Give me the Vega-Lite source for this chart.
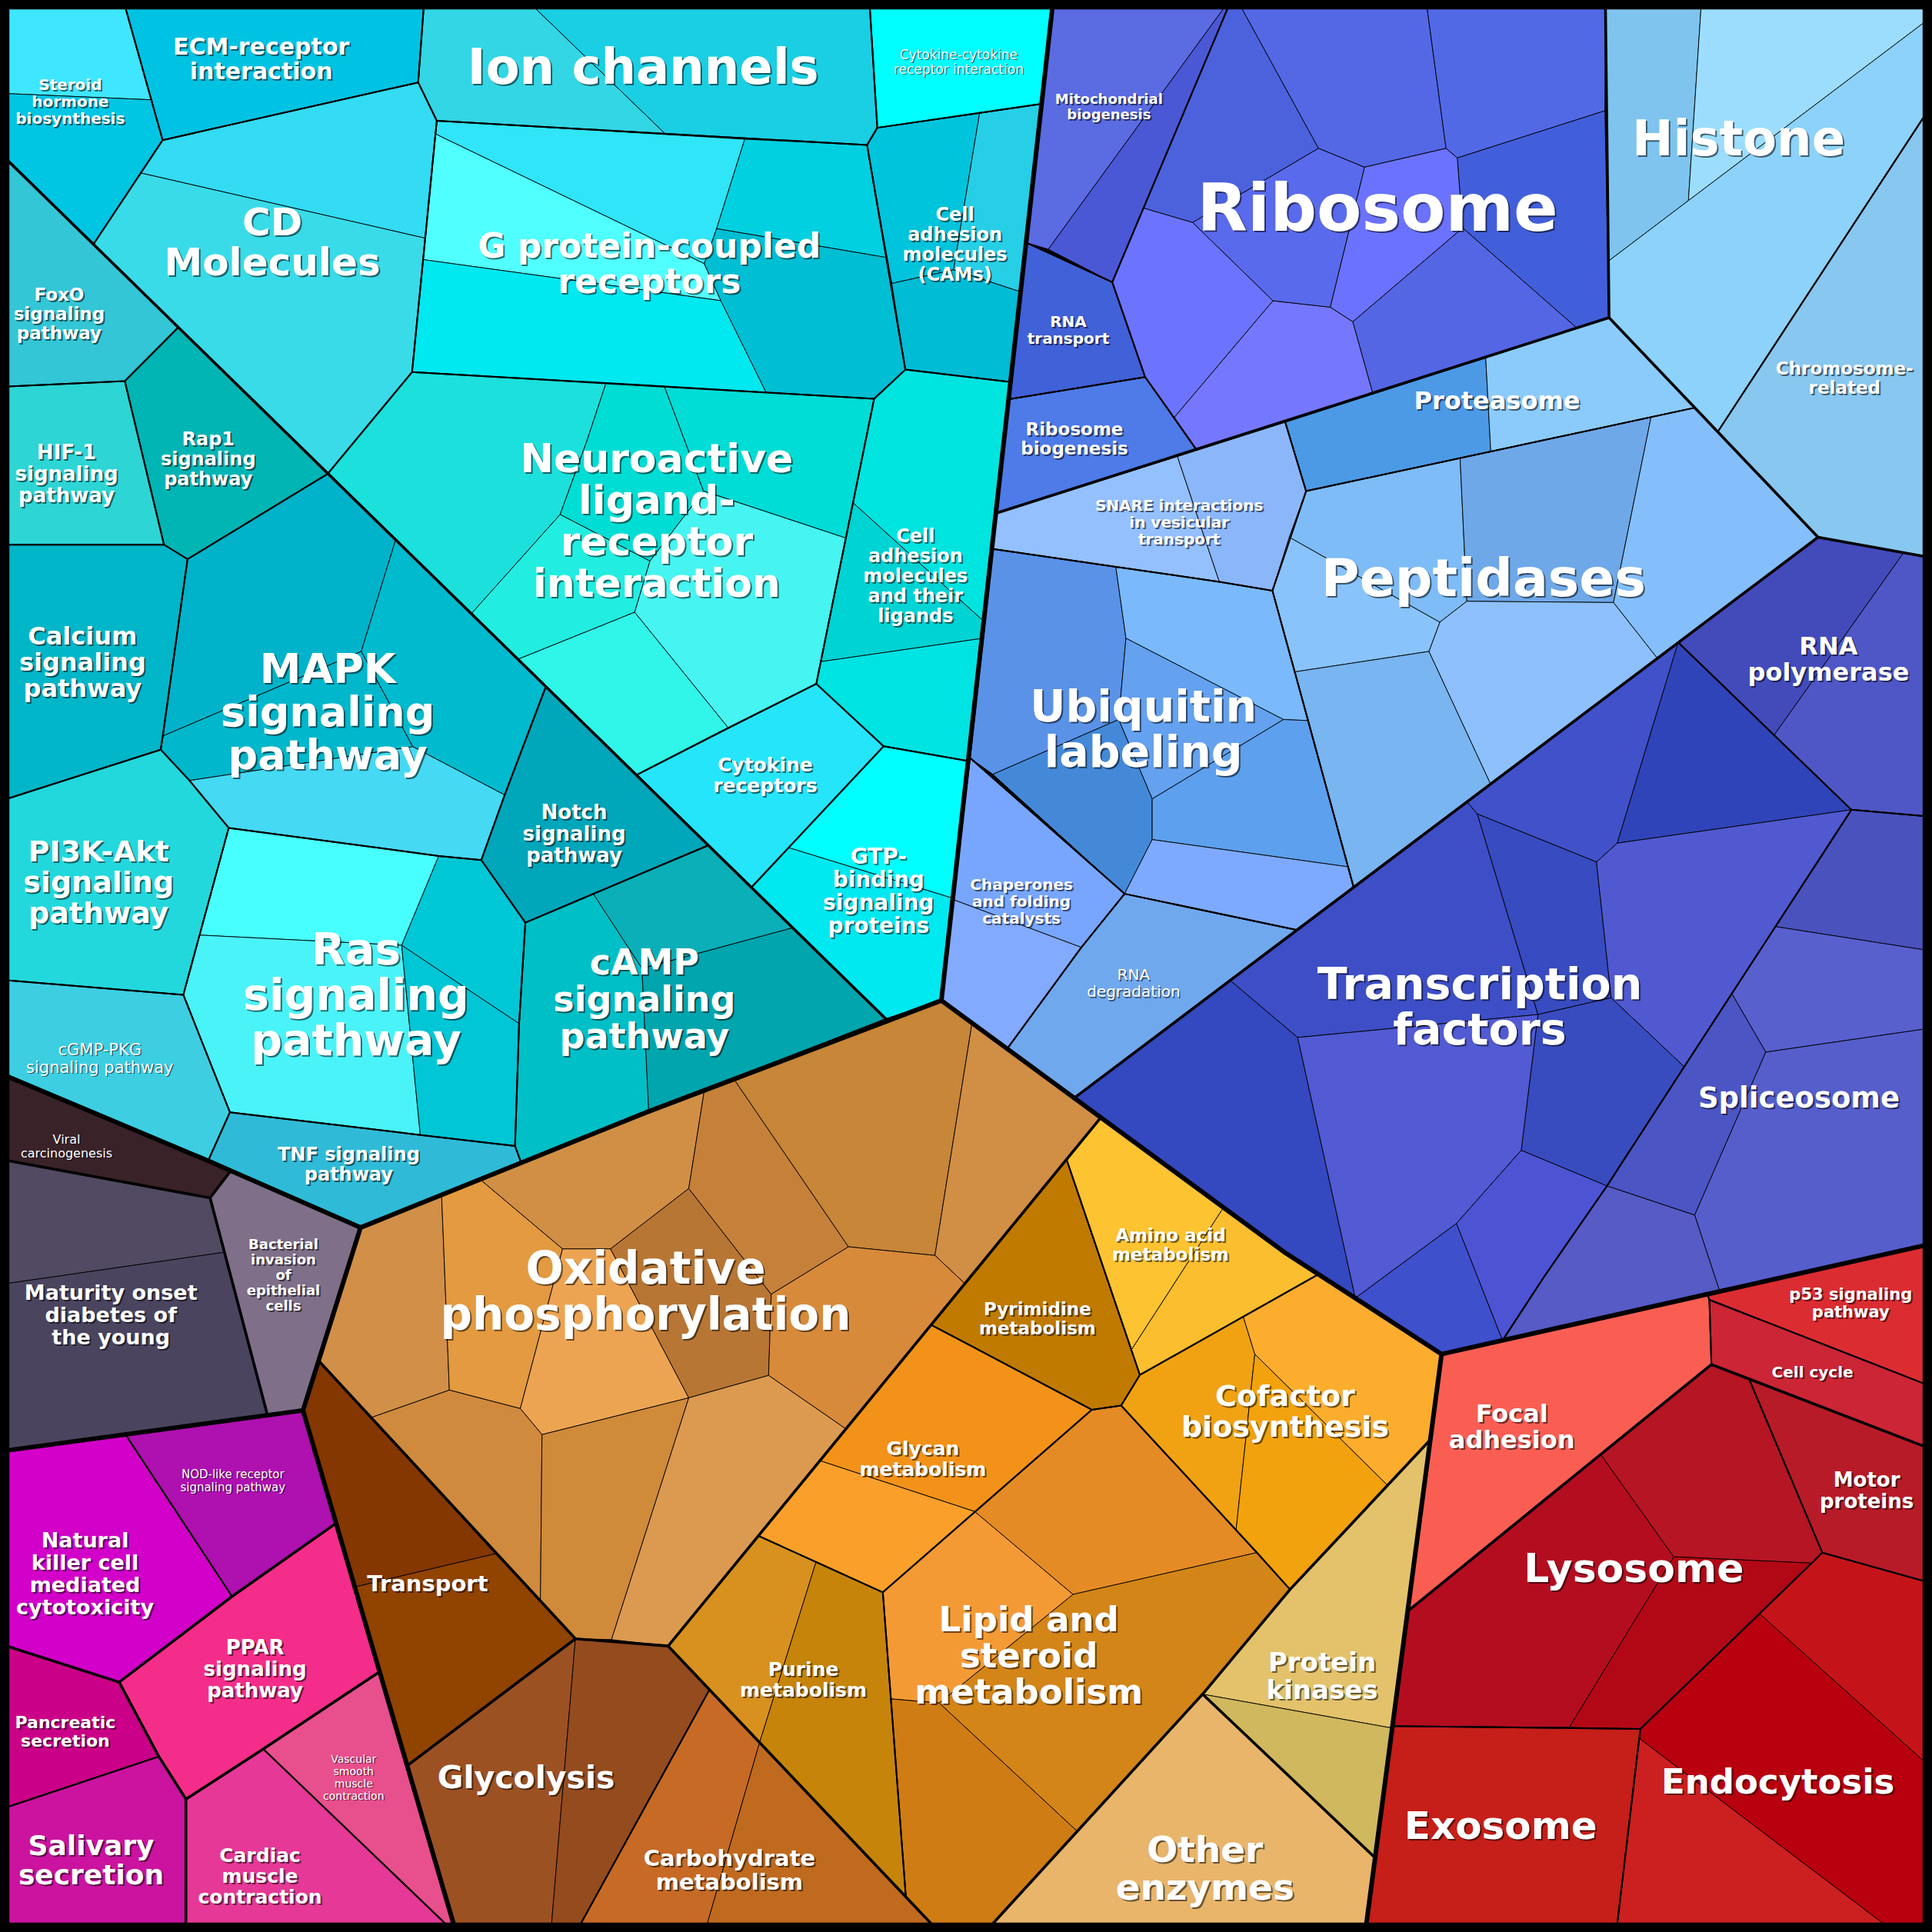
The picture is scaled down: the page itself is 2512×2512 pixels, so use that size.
{
"$schema":"https://vega.github.io/schema/vega-lite/v6.json",
"width":2512,"height":2512,
"autosize":{"type":"fit","contains":"padding"},
"padding":0,
"background":"#000000",
"config":{"view":{"stroke":null}},
"datasets":{
"cells":[
{"id":"ster_a","x":[7,102,122.8,7],"y":[7,7,81,76]},
{"id":"ster_b","x":[7,122.8,132,76,7],"y":[76,81,113.7,198,131]},
{"id":"ecm","k":"r","x":[102,343.8,339.4,132],"y":[7,7,66.9,113.7]},
{"id":"ion_a","x":[343.8,434.7,540,354.5,339.4],"y":[7,7,108.7,98,66.9]},
{"id":"ion_b","x":[434.7,706,712,703.7,540],"y":[7,7,103.7,117.7,108.7]},
{"id":"cyto_cyto","k":"r","x":[706,854,845.5,712],"y":[7,7,84.3,103.7]},
{"id":"cam_a","x":[712,795,773.9,723.8,703.7],"y":[103.7,92,219,230,117.7]},
{"id":"cam_b","x":[795,845.5,828.7,773.9],"y":[92,84.3,237,219]},
{"id":"cam_c","x":[723.8,773.9,828.7,820.7,734.8],"y":[230,219,237,310,300]},
{"id":"cd_a","x":[132,339.4,354.5,345.1,114.3],"y":[113.7,66.9,98,193.3,140.4]},
{"id":"cd_b","x":[114.3,345.1,334.4,265.9,76],"y":[140.4,193.3,302,384.6,198]},
{"id":"gp_top","x":[354.5,604.4,581.6,571.6,353.4],"y":[98,113,185.6,214,108.7]},
{"id":"gp_light","x":[353.4,571.6,585,343.4],"y":[108.7,214,244,210.7]},
{"id":"gp_bot","x":[343.4,585,621.8,524.3,334.4],"y":[210.7,244,318.5,312.7,302]},
{"id":"gp_rt","x":[604.4,703.7,719.4,581.6],"y":[113,117.7,209,185.6]},
{"id":"gp_rb","x":[581.6,719.4,734.8,709.4,621.8,585,571.6],"y":[185.6,209,300,323.7,318.5,244,214]},
{"id":"neu_1","x":[334.4,491.8,476.3,454.6,382.6,265.9],"y":[302,311,357.9,417.6,498,384.6]},
{"id":"neu_2","x":[491.8,539.3,571,527.5,454.6,476.3],"y":[311,313.8,398.5,455.4,417.6,357.9]},
{"id":"neu_3","x":[539.3,621.8,709.4,686.5,571],"y":[313.8,318.5,323.7,436.7,398.5]},
{"id":"neu_4","x":[454.6,527.5,515.1,420.5,382.6],"y":[417.6,455.4,496.9,535,498]},
{"id":"neu_5","x":[571,686.5,662.5,591.1,515.1,527.5],"y":[398.5,436.7,555,590.8,496.9,455.4]},
{"id":"neu_6","x":[420.5,515.1,591.1,516.6],"y":[535,496.9,590.8,629]},
{"id":"cyto_rec","k":"r","x":[516.6,591.1,662.5,717.1,610],"y":[629,590.8,555,605.7,720]},
{"id":"cal_1","x":[709.4,734.8,820.7,799.2,692.3],"y":[323.7,300,310,505,408]},
{"id":"cal_2","x":[692.3,799.2,797.8,666.2],"y":[408,505,518,537]},
{"id":"cal_3","x":[666.2,797.8,786.8,717.1,662.5],"y":[537,518,617.8,605.7,555]},
{"id":"gtp_a","x":[717.1,786.8,774.5,640.2],"y":[605.7,617.8,729.4,688]},
{"id":"gtp_b","x":[640.2,774.5,764,719,610],"y":[688,729.4,812,827,720]},
{"id":"foxo","k":"r","x":[7,144.8,101.3,7],"y":[131,265.6,309.3,313.7]},
{"id":"rap1","k":"r","x":[144.8,265.9,152.2,133.1,101.3],"y":[265.6,384.6,453.8,442.1,309.3]},
{"id":"hif1","k":"r","x":[7,101.3,133.1,7],"y":[313.7,309.3,442.1,442.1]},
{"id":"calc","k":"r","x":[7,133.1,152.2,132.1,130.4,7],"y":[442.1,442.1,453.8,597.4,608.4,647.9]},
{"id":"mapk_a","x":[152.2,265.9,321.2,293.2,132.1],"y":[453.8,384.6,437.8,528.7,597.4]},
{"id":"mapk_b","x":[321.2,443.1,409.6,335,293.2],"y":[437.8,557,645.2,606,528.7]},
{"id":"mapk_c","x":[132.1,293.2,335,153.8,130.4],"y":[597.4,528.7,606,633.5,608.4]},
{"id":"mapk_d","x":[153.8,335,409.6,390.6,356.1,185.6],"y":[633.5,606,645.2,698,694.7,671.9]},
{"id":"notch","k":"r","x":[443.1,575,518.1,481.5,426.4,390.6,409.6],"y":[557,686,710,725.5,748.8,698,645.2]},
{"id":"pi3k","k":"r","x":[7,130.4,153.8,185.6,148.8,7],"y":[647.9,608.4,633.5,671.9,807.4,795.7]},
{"id":"cgmp","k":"r","x":[7,148.8,186.6,168.9,7],"y":[795.7,807.4,902.7,942.1,874]},
{"id":"ras_a","x":[185.6,356.1,326,162],"y":[671.9,694.7,767.2,758.9]},
{"id":"ras_b","x":[356.1,390.6,426.4,421.3,326],"y":[694.7,698,748.8,830.8,767.2]},
{"id":"ras_c","x":[162,326,341.1,186.6,148.8],"y":[758.9,767.2,921.1,902.7,807.4]},
{"id":"ras_d","x":[326,421.3,418,341.1],"y":[767.2,830.8,930.1,921.1]},
{"id":"tnf","k":"r","x":[186.6,341.1,418,423,292.6,168.9],"y":[902.7,921.1,930.1,943.8,996.3,942.1]},
{"id":"camp_a","x":[481.5,518.1,575,643.5,521],"y":[725.5,710,686,753,786]},
{"id":"camp_b","x":[426.4,481.5,521,526.5,423,418,421.3],"y":[748.8,725.5,786,902,943.8,930.1,830.8]},
{"id":"camp_c","x":[521,643.5,719,526.5],"y":[786,753,827,902]},
{"id":"mito_a","x":[854,993,850.8,833.1],"y":[7,7,202.3,197]},
{"id":"mito_b","x":[993,996.3,902.7,850.8],"y":[7,7,229,202.3]},
{"id":"rnatr","k":"r","x":[833.1,902.7,929.4,819.1],"y":[197,229,306,324]},
{"id":"ribbio","k":"r","x":[819.1,929.4,952.8,971.2,809],"y":[324,306,339,365.2,416.3]},
{"id":"rib_a","x":[996.3,1008,1070.1,967.9,928],"y":[7,7,120.4,180.6,168.9]},
{"id":"rib_b","x":[1008,1158.3,1173.6,1107.4,1070.1],"y":[7,7,120.4,135.7,120.4]},
{"id":"rib_c","x":[1158.3,1303,1302.5,1182.7,1173.6],"y":[7,7,89.9,128.2,120.4]},
{"id":"rib_d","x":[1182.7,1302.5,1305.9,1280.4,1187.1],"y":[128.2,89.9,257.8,266.8,185]},
{"id":"rib_e","x":[1107.4,1173.6,1182.7,1187.1,1097.9,1079.6],"y":[135.7,120.4,128.2,185,261.2,249.3]},
{"id":"rib_f","x":[1187.1,1280.4,1114.2,1097.9],"y":[185,266.8,319.7,261.2]},
{"id":"rib_g","x":[1033.1,1079.6,1097.9,1114.2,971.2,952.8],"y":[244.1,249.3,261.2,319.7,365.2,339]},
{"id":"rib_h","x":[967.9,1070.1,1107.4,1079.6,1033.1],"y":[180.6,120.4,135.7,249.3,244.1]},
{"id":"rib_i","x":[928,967.9,1033.1,952.8,929.4,902.7],"y":[168.9,180.6,244.1,339,306,229]},
{"id":"hist_a","x":[1303,1380.5,1370.3,1305.3],"y":[7,7,162.8,212]},
{"id":"hist_b","x":[1380.5,1561,1561,1370.3],"y":[7,7,18.7,162.8]},
{"id":"hist_c","x":[1305.3,1370.3,1561,1561,1394.1,1305.9],"y":[212,162.8,18.7,95.4,350.5,257.8]},
{"id":"chrom","k":"r","x":[1561,1561,1475.5,1394.1],"y":[95.4,451.5,436,350.5]},
{"id":"prot_a","x":[1043,1205.8,1209.9,1060],"y":[342.4,290.5,366.4,398.6]},
{"id":"prot_b","x":[1205.8,1305.9,1375.4,1209.9],"y":[290.5,257.8,330.9,366.4]},
{"id":"snare_a","x":[809,955.5,989.6,905.6,805.8],"y":[416.3,370.2,472.2,460,445.5]},
{"id":"snare_b","x":[955.5,1043,1060,1032.7,989.6],"y":[370.2,342.4,398.6,479.4,472.2]},
{"id":"pep_1","x":[1060,1185,1190.5,1168.5,1046.3],"y":[398.6,371.8,488,505,436]},
{"id":"pep_2","x":[1185,1340,1309.5,1190.5],"y":[371.8,338.5,489,488]},
{"id":"pep_3","x":[1340,1375.4,1475.5,1345,1309.5],"y":[338.5,330.9,436,534.2,489]},
{"id":"pep_4","x":[1190.5,1309.5,1345,1209.6,1159.7,1168.5],"y":[488,489,534.2,636.1,528.7,505]},
{"id":"pep_5","x":[1046.3,1168.5,1159.7,1050.8,1032.7],"y":[436,505,528.7,545.3,479.4]},
{"id":"pep_6","x":[1050.8,1159.7,1209.6,1098.5],"y":[545.3,528.7,636.1,719.7]},
{"id":"ubi_1","x":[805.8,905.6,913.8,907.9,805.8,787.1],"y":[445.5,460,518,584,628.4,615]},
{"id":"ubi_2","x":[905.6,989.6,1032.7,1050.8,1061.9,1041.7,913.8],"y":[460,472.2,479.4,545.3,584.8,584,518]},
{"id":"ubi_3","x":[913.8,1041.7,935.1,907.9],"y":[518,584,648.4,584]},
{"id":"ubi_4","x":[805.8,907.9,935.1,935.1,912.7],"y":[628.4,584,648.4,681.4,725.4]},
{"id":"ubi_5","x":[1041.7,1061.9,1094.1,935.1,935.1],"y":[584,584.8,703.5,681.4,648.4]},
{"id":"ubi_6","x":[935.1,1094.1,1098.5,1052,912.7],"y":[681.4,703.5,719.7,754.7,725.4]},
{"id":"chap_a","x":[787.1,912.7,877.6,774.4],"y":[615,725.4,768.9,730.4]},
{"id":"chap_b","x":[774.4,877.6,817.4,764],"y":[730.4,768.9,851.2,812]},
{"id":"rnadeg","k":"r","x":[912.7,1052,871.2,817.4,877.6],"y":[725.4,754.7,891.6,851.2,768.9]},
{"id":"rnap_a","x":[1475.5,1545,1439.9,1362],"y":[436,448.6,596.6,521.4]},
{"id":"rnap_b","x":[1545,1561,1561,1502.6,1439.9],"y":[448.6,451.5,662.3,657.2,596.6]},
{"id":"tf1","x":[871.2,998,1053.2,1100,1042],"y":[891.6,795.3,842,1053.5,1016]},
{"id":"tf2","x":[998,1190.5,1199,1248.2,1053.2],"y":[795.3,650.5,660.6,823.4,842]},
{"id":"tf3","x":[1190.5,1362,1312.6,1295.7,1199],"y":[650.5,521.4,684.3,699.6,660.6]},
{"id":"tf4","x":[1362,1502.6,1312.6],"y":[521.4,657.2,684.3]},
{"id":"tf5","x":[1199,1295.7,1307.6,1248.2],"y":[660.6,699.6,809.8,823.4]},
{"id":"tf6","x":[1295.7,1312.6,1502.6,1366.9,1307.6],"y":[699.6,684.3,657.2,865.8,809.8]},
{"id":"tf7","x":[1248.2,1307.6,1366.9,1304.2,1234.6],"y":[823.4,809.8,865.8,962.5,933.6]},
{"id":"tf8","x":[1053.2,1248.2,1234.6,1182,1100],"y":[842,823.4,933.6,993,1053.5]},
{"id":"tf9","x":[1182,1234.6,1304.2,1253.3,1219.4,1199],"y":[993,933.6,962.5,1036,1087.9,1036]},
{"id":"tf10","x":[1100,1182,1199,1219.4,1170],"y":[1053.5,993,1036,1087.9,1099]},
{"id":"spl_1","x":[1502.6,1561,1561,1440.9],"y":[657.2,662.3,770.8,752]},
{"id":"spl_2","x":[1440.9,1561,1561,1433.1,1405.5],"y":[752,770.8,835.3,853.9,806.4]},
{"id":"spl_3","x":[1405.5,1433.1,1375.4,1304.2,1366.9],"y":[806.4,853.9,986.2,962.5,865.8]},
{"id":"spl_4","x":[1433.1,1561,1561,1395.7,1375.4],"y":[853.9,835.3,1011,1048.1,986.2]},
{"id":"spl_5","x":[1304.2,1375.4,1395.7,1385.6,1219.4,1253.3],"y":[962.5,986.2,1048.1,1050.4,1087.9,1036]},
{"id":"p53","k":"r","x":[1385.6,1561,1561,1387.3],"y":[1050.4,1011,1122.7,1054.9]},
{"id":"ccycle","k":"r","x":[1387.3,1561,1561,1389],"y":[1054.9,1122.7,1173.6,1107.4]},
{"id":"focal","k":"r","x":[1170,1385.6,1387.3,1389,1142.5],"y":[1099,1050.4,1054.9,1107.4,1307.6]},
{"id":"motor","k":"r","x":[1419.5,1561,1561,1478.9],"y":[1119.1,1173.6,1283.1,1260.1]},
{"id":"ly1","x":[1142.5,1299.1,1358.4,1273.6,1130.1],"y":[1307.6,1180.4,1263.5,1401.9,1400.9]},
{"id":"ly2","x":[1299.1,1389,1419.5,1478.9,1470.4,1358.4],"y":[1180.4,1107.4,1119.1,1260.1,1268.6,1263.5]},
{"id":"ly3","x":[1358.4,1470.4,1331.3,1273.6],"y":[1263.5,1268.6,1403.2,1401.9]},
{"id":"exo","k":"r","x":[1130.1,1331.3,1312.6,1109],"y":[1400.9,1403.2,1561,1561]},
{"id":"en1","x":[1478.9,1561,1561,1428,1470.4],"y":[1260.1,1283.1,1429,1309.6,1268.6]},
{"id":"en2","x":[1428,1561,1561,1528.1,1330.6,1331.3],"y":[1309.6,1429,1561,1561,1411,1403.2]},
{"id":"en3","x":[1331.3,1330.6,1528.1,1312.6],"y":[1403.2,1411,1561,1561]},
{"id":"ox_A","x":[292.6,358.4,364.7,302,258.9],"y":[996.3,969.8,1128.2,1150.2,1104.7]},
{"id":"ox_B","x":[358.4,389.7,456.6,422.3,364.7],"y":[969.8,957.2,1013.6,1143.2,1128.2]},
{"id":"ox_C","x":[389.7,524,571.6,559,495.5,456.6],"y":[957.2,903,885,964.6,1013.6,1013.6]},
{"id":"ox_D","x":[456.6,495.5,559,439.9,422.3],"y":[1013.6,1013.6,1134.5,1164.3,1143.2]},
{"id":"ox_E","x":[495.5,559,625.9,623.8,559],"y":[1013.6,964.6,1050.4,1116.3,1134.5]},
{"id":"ox_F","x":[571.6,595.8,688.6,625.9,559],"y":[885,876,1011.9,1050.4,964.6]},
{"id":"ox_G","x":[595.8,764,788.9,758.8,688.6],"y":[876,812,830.3,1018.9,1011.9]},
{"id":"ox_H","x":[788.9,893.4,783,758.8],"y":[830.3,907,1041.7,1018.9]},
{"id":"ox_I","x":[688.6,758.8,783,686.5,623.8,625.9],"y":[1011.9,1018.9,1041.7,1159.7,1116.3,1050.4]},
{"id":"ox_J","x":[302,364.7,422.3,439.9,438.6],"y":[1150.2,1128.2,1143.2,1164.3,1299.4]},
{"id":"ox_K","x":[439.9,559,496.3,467,438.6],"y":[1164.3,1134.5,1330.7,1330,1299.4]},
{"id":"ox_L","x":[559,623.8,686.5,542.3,496.3],"y":[1134.5,1116.3,1159.7,1335.9,1330.7]},
{"id":"tr_a","x":[258.9,402,288,245.9],"y":[1104.7,1261,1288,1144.7]},
{"id":"tr_b","x":[288,402,467,330.4],"y":[1288,1261,1330,1433.1]},
{"id":"gl_a","x":[330.4,467,447.7,368],"y":[1433.1,1330,1561,1561]},
{"id":"gl_b","x":[467,542.3,575.8,471.5,447.7],"y":[1330,1335.9,1371.3,1561,1561]},
{"id":"ca_a","x":[575.8,616.5,574.1,471.5],"y":[1371.3,1414.2,1561,1561]},
{"id":"ca_b","x":[616.5,755.5,574.1],"y":[1414.2,1561,1561]},
{"id":"pu_a","x":[542.3,615.5,662.3,616.5],"y":[1335.9,1246.5,1267.7,1414.2]},
{"id":"pu_b","x":[662.3,716.5,735.2,616.5],"y":[1267.7,1292.3,1539.6,1414.2]},
{"id":"pyr","k":"r","x":[865.6,918.2,925.1,909.9,886.1,755.7],"y":[941,1095.6,1115.9,1140.7,1144.1,1075.2]},
{"id":"gy_a","x":[755.7,886.1,791.2,665.4],"y":[1075.2,1144.1,1226.8,1185.5]},
{"id":"gy_b","x":[665.4,791.2,716.5,615.5],"y":[1185.5,1226.8,1292.3,1246.5]},
{"id":"li_a","x":[716.5,791.2,870.9,762.3,723],"y":[1292.3,1226.8,1294,1382.2,1378.8]},
{"id":"li_b","x":[791.2,886.1,909.9,1003.2,1020.1,870.9],"y":[1226.8,1144.1,1140.7,1241.8,1260.1,1294]},
{"id":"li_c","x":[870.9,1020.1,1047,976,874.3,762.3],"y":[1294,1260.1,1290,1375,1486.3,1382.2]},
{"id":"li_d","x":[723,762.3,874.3,806,755.5,735.2],"y":[1378.8,1382.2,1486.3,1561,1561,1539.6]},
{"id":"am_a","x":[865.6,893.4,993,918.2],"y":[941,907,980,1095.6]},
{"id":"am_b","x":[993,1042,1070,925.1,918.2],"y":[980,1016,1034.2,1115.9,1095.6]},
{"id":"co_a","x":[925.1,1009,1018.4,1003.2,909.9],"y":[1115.9,1068.5,1099,1241.8,1140.7]},
{"id":"co_b","x":[1009,1070,1170,1160.8,1126.1,1018.4],"y":[1068.5,1034.2,1099,1168.5,1205.5,1099]},
{"id":"co_c","x":[1018.4,1126.1,1047,1020.1,1003.2],"y":[1099,1205.5,1290,1260.1,1241.8]},
{"id":"pk_a","x":[1047,1160.8,1129.9,976],"y":[1290,1168.5,1402.5,1375]},
{"id":"pk_b","x":[976,1129.9,1116],"y":[1375,1402.5,1507.7]},
{"id":"other","k":"r","x":[806,976,1116,1109],"y":[1561,1375,1507.7,1561]},
{"id":"viral","k":"r","x":[7,168.9,187.3,170.5,7],"y":[874,942.1,950.2,972.2,942.1]},
{"id":"bact","k":"r","x":[187.3,292.6,245.9,217.1,170.5],"y":[950.2,996.3,1144.7,1148.6,972.2]},
{"id":"mat_a","x":[7,170.5,182.2,7],"y":[942.1,972.2,1016.3,1041.5]},
{"id":"mat_b","x":[7,182.2,217.1,7],"y":[1041.5,1016.3,1148.6,1177]},
{"id":"nod","k":"r","x":[101.8,245.9,272.7,188.3],"y":[1164.2,1144.7,1236.3,1295.7]},
{"id":"nk","k":"r","x":[7,101.8,188.3,96.7,7],"y":[1177,1164.2,1295.7,1365.2,1336.4]},
{"id":"ppar","k":"r","x":[96.7,188.3,272.7,308,213.7,150.9,128.9],"y":[1365.2,1295.7,1236.3,1356.8,1419.5,1460.2,1425.6]},
{"id":"panc","k":"r","x":[7,96.7,128.9,7],"y":[1336.4,1365.2,1425.6,1466.3]},
{"id":"saliv","k":"r","x":[7,128.9,150.9,150.9,7],"y":[1466.3,1425.6,1460.2,1561,1561]},
{"id":"vasc","k":"r","x":[213.7,308,368,361.2],"y":[1419.5,1356.8,1561,1561]},
{"id":"card","k":"r","x":[150.9,213.7,361.2,150.9],"y":[1460.2,1419.5,1561,1561]}
],
"regions":[
{"id":"steroid","x":[7,102,132,76,7],"y":[7,7,113.7,198,131]},
{"id":"ion","x":[343.8,706,712,703.7,524.3,354.5,339.4],"y":[7,7,103.7,117.7,107.7,98,66.9]},
{"id":"cam","x":[712,845.5,820.7,734.8,703.7],"y":[103.7,84.3,310,300,117.7]},
{"id":"cd","x":[132,339.4,354.5,334.4,265.9,76],"y":[113.7,66.9,98,302,384.6,198]},
{"id":"gpcr","x":[354.5,524.3,703.7,734.8,709.4,524.3,334.4],"y":[98,107.7,117.7,300,323.7,312.7,302]},
{"id":"neuro","x":[334.4,709.4,662.5,591.1,516.6,265.9],"y":[302,323.7,555,590.8,629,384.6]},
{"id":"cal","x":[709.4,734.8,820.7,786.8,717.1,662.5],"y":[323.7,300,310,617.8,605.7,555]},
{"id":"gtp","x":[717.1,786.8,764,719,610],"y":[605.7,617.8,812,827,720]},
{"id":"mapk","x":[152.2,265.9,443.1,409.6,390.6,356.1,185.6,153.8,130.4,132.1],"y":[453.8,384.6,557,645.2,698,694.7,671.9,633.5,608.4,597.4]},
{"id":"ras","x":[185.6,356.1,390.6,426.4,421.3,418,341.1,186.6,148.8],"y":[671.9,694.7,698,748.8,830.8,930.1,921.1,902.7,807.4]},
{"id":"camp","x":[426.4,575,719,526.5,423,418,421.3],"y":[748.8,686,827,902,943.8,930.1,830.8]},
{"id":"mito","x":[854,996.3,902.7,833.1],"y":[7,7,229,197]},
{"id":"ribosome","x":[996.3,1303,1305.9,971.2,952.8,929.4,902.7],"y":[7,7,257.8,365.2,339,306,229]},
{"id":"histone","x":[1303,1561,1561,1394.1,1305.9],"y":[7,7,95.4,350.5,257.8]},
{"id":"proteasome","x":[1043,1305.9,1375.4,1060],"y":[342.4,257.8,330.9,398.6]},
{"id":"snare","x":[809,1043,1060,1032.7,989.6,905.6,805.8],"y":[416.3,342.4,398.6,479.4,472.2,460,445.5]},
{"id":"pept","x":[1060,1375.4,1475.5,1098.5,1050.8,1032.7],"y":[398.6,330.9,436,719.7,545.3,479.4]},
{"id":"ubiq","x":[805.8,905.6,989.6,1032.7,1050.8,1098.5,1052,912.7,787.1],"y":[445.5,460,472.2,479.4,545.3,719.7,754.7,725.4,615]},
{"id":"chap","x":[787.1,912.7,877.6,817.4,764],"y":[615,725.4,768.9,851.2,812]},
{"id":"rnapol","x":[1475.5,1561,1561,1502.6,1362],"y":[436,451.5,662.3,657.2,521.4]},
{"id":"tf","x":[1362,1502.6,1366.9,1304.2,1253.3,1219.4,1170,1042,871.2],"y":[521.4,657.2,865.8,962.5,1036,1087.9,1099,1016,891.6]},
{"id":"spl","x":[1502.6,1561,1561,1385.6,1219.4,1253.3,1304.2,1366.9],"y":[657.2,662.3,1011,1050.4,1087.9,1036,962.5,865.8]},
{"id":"lyso","x":[1142.5,1389,1419.5,1478.9,1470.4,1331.3,1130.1],"y":[1307.6,1107.4,1119.1,1260.1,1268.6,1403.2,1400.9]},
{"id":"endo","x":[1478.9,1561,1561,1312.6,1331.3,1470.4],"y":[1260.1,1283.1,1561,1561,1403.2,1268.6]},
{"id":"oxid","x":[292.6,524,764,893.4,542.3,467,258.9],"y":[996.3,903,812,907,1335.9,1330,1104.7]},
{"id":"transport","x":[258.9,467,330.4,245.9],"y":[1104.7,1330,1433.1,1144.7]},
{"id":"glyco","x":[330.4,467,542.3,575.8,471.5,368],"y":[1433.1,1330,1335.9,1371.3,1561,1561]},
{"id":"carbo","x":[575.8,755.5,471.5],"y":[1371.3,1561,1561]},
{"id":"purine","x":[542.3,615.5,716.5,735.2],"y":[1335.9,1246.5,1292.3,1539.6]},
{"id":"glycan","x":[755.7,886.1,716.5,615.5],"y":[1075.2,1144.1,1292.3,1246.5]},
{"id":"lipid","x":[716.5,886.1,909.9,1020.1,1047,976,806,755.5,735.2],"y":[1292.3,1144.1,1140.7,1260.1,1290,1375,1561,1561,1539.6]},
{"id":"amino","x":[865.6,893.4,1042,1070,925.1],"y":[941,907,1016,1034.2,1115.9]},
{"id":"cofactor","x":[925.1,1070,1170,1160.8,1047,1020.1,909.9],"y":[1115.9,1034.2,1099,1168.5,1290,1260.1,1140.7]},
{"id":"pk","x":[1047,1160.8,1116,976],"y":[1290,1168.5,1507.7,1375]},
{"id":"maturity","x":[7,170.5,217.1,7],"y":[942.1,972.2,1148.6,1177]}
],
"borders":[
{"id":"b1","lv":"1","x":[854,764],"y":[7,812]},
{"id":"b2","lv":"1","x":[7,168.9,292.6,524,764,1042,1170,1385.6,1561],"y":[874,942.1,996.3,903,812,1016,1099,1050.4,1011]},
{"id":"b3","lv":"1","x":[1170,1109],"y":[1099,1561]},
{"id":"b4","lv":"1","x":[292.6,245.9,368],"y":[996.3,1144.7,1561]},
{"id":"b5","lv":"1","x":[7,245.9],"y":[1177,1144.7]},
{"id":"c1","lv":"2","x":[7,719],"y":[131,827]},
{"id":"c2","lv":"2","x":[809,1305.9,1303],"y":[416.3,257.8,7]},
{"id":"c3","lv":"2","x":[1305.9,1475.5,1561],"y":[257.8,436,451.5]},
{"id":"c4","lv":"2","x":[1475.5,871.2],"y":[436,891.6]},
{"id":"c5","lv":"2","x":[1142.5,1389,1561],"y":[1307.6,1107.4,1173.6]},
{"id":"c6","lv":"2","x":[258.9,467,542.3,893.4],"y":[1104.7,1330,1335.9,907]},
{"id":"c7","lv":"2","x":[467,330.4],"y":[1330,1433.1]},
{"id":"c8","lv":"2","x":[542.3,755.5],"y":[1335.9,1561]},
{"id":"c9","lv":"2","x":[1160.8,1047,976,806],"y":[1168.5,1290,1375,1561]},
{"id":"c10","lv":"2","x":[976,1116],"y":[1375,1507.7]},
{"id":"c11","lv":"2","x":[7,96.7,188.3,272.7],"y":[1336.4,1365.2,1295.7,1236.3]},
{"id":"c12","lv":"2","x":[96.7,128.9,150.9,150.9],"y":[1365.2,1425.6,1460.2,1561]},
{"id":"c13","lv":"2","x":[150.9,213.7,308],"y":[1460.2,1419.5,1356.8]},
{"id":"c14","lv":"2","x":[7,170.5,217.1],"y":[942.1,972.2,1148.6]},
{"id":"c15","lv":"2","x":[187.3,170.5],"y":[950.2,972.2]}
],
"labels":[
{"t":"Steroid\nhormone\nbiosynthesis","x":57,"y":69.5,"fs":20},
{"t":"ECM-receptor\ninteraction","x":212,"y":38.6,"fs":30},
{"t":"Ion channels","x":522,"y":56,"fs":64},
{"t":"Cytokine-cytokine\nreceptor interaction","x":778,"y":44.7,"fs":17,"w":"n"},
{"t":"CD\nMolecules","x":221,"y":181.4,"fs":50},
{"t":"G protein-coupled\nreceptors","x":527,"y":201,"fs":44},
{"t":"Cell\nadhesion\nmolecules\n(CAMs)","x":775,"y":174.5,"fs":24},
{"t":"FoxO\nsignaling\npathway","x":48,"y":239.6,"fs":23},
{"t":"Neuroactive\nligand-\nreceptor\ninteraction","x":533,"y":373.3,"fs":52},
{"t":"Rap1\nsignaling\npathway","x":169,"y":357,"fs":24},
{"t":"HIF-1\nsignaling\npathway","x":54,"y":367.8,"fs":26},
{"t":"Cell\nadhesion\nmolecules\nand their\nligands","x":743,"y":436,"fs":24},
{"t":"Calcium\nsignaling\npathway","x":67,"y":517,"fs":32},
{"t":"MAPK\nsignaling\npathway","x":266,"y":544.3,"fs":54},
{"t":"Cytokine\nreceptors","x":621,"y":621.2,"fs":25},
{"t":"PI3K-Akt\nsignaling\npathway","x":80,"y":692.3,"fs":38},
{"t":"Notch\nsignaling\npathway","x":466,"y":659.8,"fs":26},
{"t":"GTP-\nbinding\nsignaling\nproteins","x":713,"y":695.8,"fs":28},
{"t":"Ras\nsignaling\npathway","x":289,"y":772.4,"fs":57},
{"t":"cAMP\nsignaling\npathway","x":523,"y":782.3,"fs":46},
{"t":"cGMP-PKG\nsignaling pathway","x":81,"y":852.4,"fs":21,"w":"n"},
{"t":"TNF signaling\npathway","x":283,"y":937.5,"fs":24},
{"t":"Viral\ncarcinogenesis","x":54,"y":925,"fs":16,"w":"n"},
{"t":"Maturity onset\ndiabetes of\nthe young","x":90,"y":1050.1,"fs":27},
{"t":"Bacterial\ninvasion\nof\nepithelial\ncells","x":230,"y":1010.6,"fs":18},
{"t":"Natural\nkiller cell\nmediated\ncytotoxicity","x":69,"y":1250.7,"fs":27},
{"t":"NOD-like receptor\nsignaling pathway","x":189,"y":1196.3,"fs":15,"w":"n"},
{"t":"PPAR\nsignaling\npathway","x":207,"y":1337.8,"fs":26},
{"t":"Pancreatic\nsecretion","x":53,"y":1398.1,"fs":22},
{"t":"Vascular\nsmooth\nmuscle\ncontraction","x":287,"y":1427.9,"fs":14,"w":"n"},
{"t":"Salivary\nsecretion","x":74,"y":1498.8,"fs":36},
{"t":"Cardiac\nmuscle\ncontraction","x":211,"y":1506.4,"fs":25},
{"t":"Transport","x":347,"y":1286,"fs":29},
{"t":"Oxidative\nphosphorylation","x":524,"y":1030.9,"fs":58},
{"t":"Glycolysis","x":427,"y":1444,"fs":41},
{"t":"Carbohydrate\nmetabolism","x":592,"y":1509,"fs":29},
{"t":"Purine\nmetabolism","x":652,"y":1355.2,"fs":25},
{"t":"Lipid and\nsteroid\nmetabolism","x":835,"y":1314.9,"fs":45},
{"t":"Glycan\nmetabolism","x":749,"y":1176.2,"fs":25},
{"t":"Pyrimidine\nmetabolism","x":842,"y":1062.8,"fs":23},
{"t":"Amino acid\nmetabolism","x":950,"y":1002.8,"fs":23},
{"t":"Cofactor\nbiosynthesis","x":1043,"y":1134.2,"fs":38},
{"t":"Protein\nkinases","x":1073,"y":1350.4,"fs":34},
{"t":"Other\nenzymes","x":978,"y":1502.3,"fs":47},
{"t":"Focal\nadhesion","x":1227,"y":1148,"fs":32},
{"t":"Lysosome","x":1326,"y":1274,"fs":52},
{"t":"Exosome","x":1218,"y":1483,"fs":50},
{"t":"Endocytosis","x":1443,"y":1447,"fs":45},
{"t":"p53 signaling\npathway","x":1502,"y":1051.4,"fs":21},
{"t":"Cell cycle","x":1471,"y":1114,"fs":20},
{"t":"Motor\nproteins","x":1515,"y":1201.9,"fs":26},
{"t":"Transcription\nfactors","x":1201,"y":800.2,"fs":57},
{"t":"Spliceosome","x":1460,"y":892,"fs":37},
{"t":"RNA\npolymerase","x":1484,"y":525,"fs":32},
{"t":"Ubiquitin\nlabeling","x":928,"y":575.2,"fs":57},
{"t":"Peptidases","x":1204,"y":471,"fs":68},
{"t":"Proteasome","x":1215,"y":326,"fs":32},
{"t":"SNARE interactions\nin vesicular\ntransport","x":957,"y":410.5,"fs":20},
{"t":"Chaperones\nand folding\ncatalysts","x":829,"y":718.5,"fs":20},
{"t":"RNA\ndegradation","x":920,"y":791.7,"fs":20,"w":"n"},
{"t":"Ribosome","x":1118,"y":171,"fs":85},
{"t":"Histone","x":1411,"y":114,"fs":64},
{"t":"Chromosome-\nrelated","x":1497,"y":299.8,"fs":23},
{"t":"Mitochondrial\nbiogenesis","x":900,"y":81.4,"fs":18},
{"t":"RNA\ntransport","x":867,"y":261.7,"fs":20},
{"t":"Ribosome\nbiogenesis","x":872,"y":348.8,"fs":23}
]
},
"encoding":{
"x":{"field":"x","type":"quantitative","scale":{"domain":[0,1568],"nice":false,"zero":false},"axis":null},
"y":{"field":"y","type":"quantitative","scale":{"domain":[0,1568],"nice":false,"zero":false,"reverse":true},"axis":null}
},
"layer":[
{"data":{"name":"cells"},"transform":[{"flatten":["x","y"]}],
"mark":{"type":"line","interpolate":"linear-closed","stroke":"#000000","strokeWidth":0.9,"strokeJoin":"round"},
"encoding":{
"fill":{"field":"id","type":"nominal","legend":null,"scale":{
"domain":["ster_a","ster_b","ecm","ion_a","ion_b","cyto_cyto","cam_a","cam_b","cam_c","cd_a","cd_b","gp_top","gp_light","gp_bot","gp_rt","gp_rb","neu_1","neu_2","neu_3","neu_4","neu_5","neu_6","cyto_rec","cal_1","cal_2","cal_3","gtp_a","gtp_b","foxo","rap1","hif1","calc","mapk_a","mapk_b","mapk_c","mapk_d","notch","pi3k","cgmp","ras_a","ras_b","ras_c","ras_d","tnf","camp_a","camp_b","camp_c","mito_a","mito_b","rnatr","ribbio","rib_a","rib_b","rib_c","rib_d","rib_e","rib_f","rib_g","rib_h","rib_i","hist_a","hist_b","hist_c","chrom","prot_a","prot_b","snare_a","snare_b","pep_1","pep_2","pep_3","pep_4","pep_5","pep_6","ubi_1","ubi_2","ubi_3","ubi_4","ubi_5","ubi_6","chap_a","chap_b","rnadeg","rnap_a","rnap_b","tf1","tf2","tf3","tf4","tf5","tf6","tf7","tf8","tf9","tf10","spl_1","spl_2","spl_3","spl_4","spl_5","p53","ccycle","focal","motor","ly1","ly2","ly3","exo","en1","en2","en3","ox_A","ox_B","ox_C","ox_D","ox_E","ox_F","ox_G","ox_H","ox_I","ox_J","ox_K","ox_L","tr_a","tr_b","gl_a","gl_b","ca_a","ca_b","pu_a","pu_b","pyr","gy_a","gy_b","li_a","li_b","li_c","li_d","am_a","am_b","co_a","co_b","co_c","pk_a","pk_b","other","viral","bact","mat_a","mat_b","nod","nk","ppar","panc","saliv","vasc","card"],
"range":["#3fe6ff","#00c6e4","#00c3e3","#33d6e4","#1acfe3","#00ffff","#00c4dc","#26cfe6","#00bcd4","#33dbf3","#39dbe8","#2fe5f7","#50ffff","#00e8f0","#00d0e0","#00bed3","#1be0dc","#00ddd4","#00dcd6","#22ede1","#46f4f1","#30f5e9","#25e5fb","#00e4e0","#00d3d3","#00e3e3","#00ffff","#00e8f0","#33c6d6","#00b5b4","#2dd5d5","#00b6c8","#00b3ca","#00bace","#00b7cc","#45d9f3","#00a6ba","#22d8dc","#3dcee2","#48ffff","#00c7d6","#4af3f8","#00c6d6","#2fbbd7","#0aafb8","#00bfc6","#00a5ae","#5b6be2","#4a58d6","#4161d8","#4e7be8","#4c62dd","#5468e6","#5269e6","#425fdb","#6b72ff","#5466e4","#7578ff","#5a6aec","#6c74ff","#7ec4ee","#9cddfd","#8cd2fa","#88c7ef","#4c9ae6","#8bcbfb","#94c0ff","#8bb6fa","#7ebcf7","#6fa8e8","#84bffb","#8dc0fd","#89c3fb","#79b5f0","#5a92e8","#7ab9fb","#64a1ef","#4489d8","#5da0ee","#7daaff","#78a6ff","#82aaff","#70a8ee","#434bba","#4f57c6","#3448c0","#3e4ec6","#4151c9","#3044b9","#384bc0","#5059d0","#384cc0","#525ad4","#4c54d4","#3e50cc","#4a52be","#5860ce","#4b55c3","#565ecc","#565bc5","#db2c32","#cb2536","#fa5e53","#b81b28","#b40d20","#b61523","#b20815","#c61e18","#c51419","#b8000f","#cc1f20","#d18f48","#e39a40","#d08f45","#eda452","#b87634","#c5813a","#c78638","#d18e45","#d88a3b","#cf8a3e","#cf8a3a","#dc9a50","#843700","#914300","#9c5123","#944b1e","#c76a25","#bf6a1e","#d8911e","#c6840b","#c17a00","#f39219","#faa02a","#f49a35","#e58b25","#d38518","#d07c14","#fdc330","#fbbe2e","#f0a212","#fdad2e","#f2a20d","#e3c26b","#d0b85e","#e8b56b","#3a2229","#7f6f89","#514a62","#4b445f","#af10b0","#d200c8","#f52d8a","#cb0088","#cb139f","#e84f8d","#e63896"]}},
"detail":{"field":"id","type":"nominal"},
"order":{"value":null}}},
{"data":{"name":"cells"},"transform":[{"filter":"datum.k === 'r'"},{"flatten":["x","y"]}],
"mark":{"type":"line","interpolate":"linear-closed","stroke":"#000000","strokeWidth":2,"strokeJoin":"round"},
"encoding":{"detail":{"field":"id","type":"nominal"},"order":{"value":null}}},
{"data":{"name":"regions"},"transform":[{"flatten":["x","y"]}],
"mark":{"type":"line","interpolate":"linear-closed","stroke":"#000000","strokeWidth":2,"strokeJoin":"round"},
"encoding":{"detail":{"field":"id","type":"nominal"},"order":{"value":null}}},
{"data":{"name":"borders"},"transform":[{"filter":"datum.lv === '2'"},{"flatten":["x","y"]}],
"mark":{"type":"line","stroke":"#000000","strokeWidth":3.6,"strokeJoin":"round","strokeCap":"round"},
"encoding":{"detail":{"field":"id","type":"nominal"},"order":{"value":null}}},
{"data":{"name":"borders"},"transform":[{"filter":"datum.lv === '1'"},{"flatten":["x","y"]}],
"mark":{"type":"line","stroke":"#000000","strokeWidth":6,"strokeJoin":"round","strokeCap":"round"},
"encoding":{"detail":{"field":"id","type":"nominal"},"order":{"value":null}}},
{"data":{"name":"labels"},"transform":[{"filter":"datum.w !== 'n'"}],
"mark":{"type":"text","font":"DejaVu Sans","fontWeight":"bold","fill":"#000000","opacity":0.55,"dx":2,"dy":2,"align":"center","baseline":"middle","lineBreak":"\n"},
"encoding":{"text":{"field":"t","type":"nominal"},"size":{"field":"fs","type":"quantitative","legend":null,"scale":{"domain":[0,100],"range":[0,100]}}}},
{"data":{"name":"labels"},"transform":[{"filter":"datum.w === 'n'"}],
"mark":{"type":"text","font":"DejaVu Sans","fontWeight":"normal","fill":"#000000","opacity":0.55,"dx":1.5,"dy":1.5,"align":"center","baseline":"middle","lineBreak":"\n"},
"encoding":{"text":{"field":"t","type":"nominal"},"size":{"field":"fs","type":"quantitative","legend":null,"scale":{"domain":[0,100],"range":[0,100]}}}},
{"data":{"name":"labels"},"transform":[{"filter":"datum.w !== 'n'"}],
"mark":{"type":"text","font":"DejaVu Sans","fontWeight":"bold","fill":"#ffffff","align":"center","baseline":"middle","lineBreak":"\n"},
"encoding":{"text":{"field":"t","type":"nominal"},"size":{"field":"fs","type":"quantitative","legend":null,"scale":{"domain":[0,100],"range":[0,100]}}}},
{"data":{"name":"labels"},"transform":[{"filter":"datum.w === 'n'"}],
"mark":{"type":"text","font":"DejaVu Sans","fontWeight":"normal","fill":"#ffffff","align":"center","baseline":"middle","lineBreak":"\n"},
"encoding":{"text":{"field":"t","type":"nominal"},"size":{"field":"fs","type":"quantitative","legend":null,"scale":{"domain":[0,100],"range":[0,100]}}}}
]
}
